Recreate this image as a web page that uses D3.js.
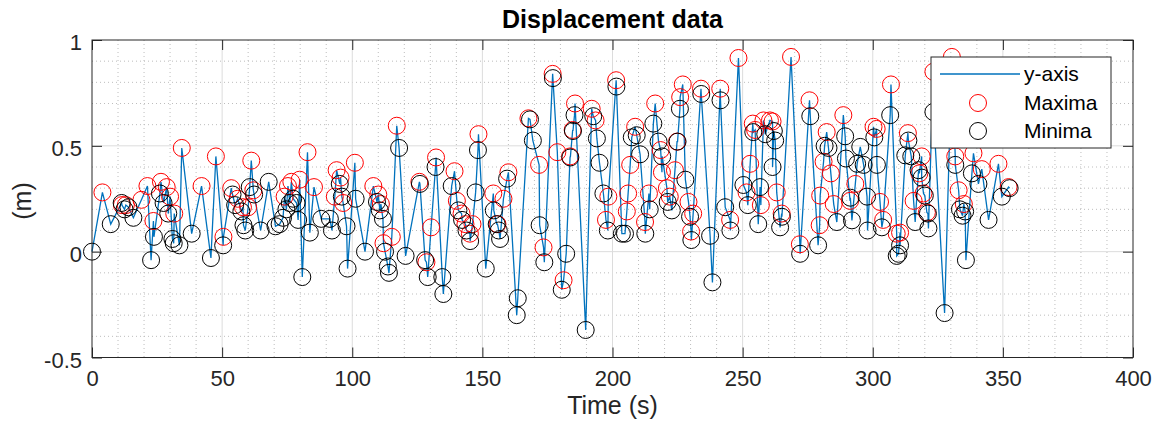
<!DOCTYPE html>
<html>
<head>
<meta charset="utf-8">
<title>Displacement data</title>
<script src="https://d3js.org/d3.v7.min.js"></script>
<style>
  body { margin: 0; background: #fff; }
  text { font-family: "Liberation Sans", Arial, sans-serif; fill: #262626; }
  .axis path.domain { display: none; }
  .axis line { stroke: #262626; }
  .grid-major line { stroke: #dcdcdc; stroke-width: 1; }
  .grid-minor line { stroke: #bdbdbd; stroke-width: 1; stroke-dasharray: 1 3; }
</style>
</head>
<body>
<div id="chart"></div>
<script>
"use strict"

// maxima (time in s, displacement in m)
var maxT = [4, 11.5, 13, 19, 21.3, 23.6, 26.5, 28.7, 30, 31.6, 34.5, 42.1, 47.6, 50.5, 53.5, 56, 58, 60, 61.2, 62,
  74, 75.3, 76.6, 79.8, 82.8, 85.3, 93.3, 94, 95.5, 96.5, 101, 108.1, 110, 111, 112, 115.2, 117.1, 125.8, 128.5, 130.3,
  132.2, 139.3, 140.2, 142, 143.5, 145.2, 146.2, 148.5, 154.2, 155.8, 158.1, 160, 167.7, 171.8, 173.5, 177, 178.8, 181.2, 183.7, 184.7,
  185.6, 192, 193.5, 197.5, 198.4, 201.4, 205.5, 206, 206.8, 208.7, 212.5, 214, 216.4, 218.5, 219, 220.9, 222, 224, 224.8, 226,
  227, 229.2, 230.2, 231, 234, 241.4, 245.2, 248.4, 251.5, 252.9, 253.9, 254.8, 257, 258, 260.5, 261.5, 263.1, 265, 268.6, 272,
  275.7, 279.6, 279.8, 281.1, 282.3, 283.9, 285, 288.7, 291.3, 293.3, 300.3, 301.5, 302.8, 304, 307, 309.2, 310.5, 313.5, 315.7, 317.9,
  318.8, 319.5, 320.8, 323.3, 330.4, 331.7, 333, 335, 338.7, 341.9, 348.3, 352.2];
var maxV = [0.28, 0.22, 0.22, 0.245, 0.31, 0.145, 0.33, 0.305, 0.26, 0.18, 0.49, 0.31, 0.45, 0.07, 0.30, 0.25, 0.21, 0.21, 0.43, 0.29,
  0.26, 0.31, 0.33, 0.34, 0.47, 0.305, 0.26, 0.385, 0.35, 0.23, 0.42, 0.31, 0.27, 0.225, 0.04, 0.07, 0.595, 0.33, -0.05, 0.115,
  0.445, 0.38, 0.24, 0.18, 0.13, 0.085, 0.13, 0.555, 0.275, 0.13, 0.25, 0.375, 0.63, 0.41, 0.02, 0.84, 0.47, -0.135, 0.45, 0.575,
  0.70, 0.675, 0.62, 0.15, 0.26, 0.81, 0.19, 0.275, 0.41, 0.59, 0.14, 0.275, 0.70, 0.48, 0.375, 0.30, 0.26, 0.385, 0.52, 0.73,
  0.79, 0.235, 0.095, 0.18, 0.77, 0.77, 0.15, 0.915, 0.28, 0.415, 0.605, 0.575, 0.22, 0.62, 0.62, 0.615, 0.28, 0.18, 0.92, 0.035,
  0.715, 0.125, 0.265, 0.425, 0.565, 0.37, 0.225, 0.645, 0.24, 0.32, 0.59, 0.58, 0.235, 0.15, 0.79, 0.085, 0.09, 0.56, 0.24, 0.37,
  0.45, 0.275, 0.185, 0.85, 0.92, 0.45, 0.29, 0.225, 0.465, 0.39, 0.415, 0.305];

// minima
var minT = [0, 7.2, 11.4, 12.5, 14, 15.9, 22.7, 23.8, 26.1, 27.5, 29.3, 30.9, 31.4, 33.6, 38.3, 45.7, 50.4, 54, 55, 57.4,
  58.2, 58.9, 60.6, 62.3, 64.8, 67.9, 70.5, 72.1, 73.4, 74.7, 76, 77.3, 78.6, 79.2, 80.8, 83.7, 88.1, 91.4, 92.2, 95.2,
  96, 97.8, 98.2, 101.3, 104.9, 109.5, 110.6, 111.8, 112.6, 113.7, 114.1, 118, 120.5, 126, 128, 129, 132, 134.6, 135, 138.2,
  140.8, 142.2, 143.9, 145.3, 147.4, 148.3, 151.3, 154.4, 155.5, 156.3, 156.8, 159.5, 163.2, 163.6, 168.3, 169.4, 172, 173.8, 177.1, 180.5,
  182.2, 183.8, 184.8, 185.4, 189.7, 192.6, 194, 195, 196.5, 198.2, 201.5, 203.6, 204.8, 207.4, 209.3, 210.6, 212.6, 214.3, 215.7, 217.7,
  219.1, 221.2, 222.8, 225, 225.9, 228, 229.8, 230.3, 234.1, 237.5, 238.4, 241.5, 243.3, 245.3, 250.3, 252, 254.1, 256, 256.7, 258.7,
  261.5, 262, 262.5, 264.4, 265.1, 272.1, 276, 279, 281.5, 283, 286.2, 289.4, 289.7, 291.4, 292, 294, 295.2, 296.5, 297.8, 298,
  300.6, 301.6, 303.5, 306.7, 309.2, 309.9, 310.5, 312.5, 313.7, 314.8, 316.3, 317.6, 318.8, 320, 321.2, 321.4, 323.3, 327.6, 331.7, 333.5,
  334.5, 335.5, 335.8, 338.1, 340.6, 344.5, 349.6, 352.6];
var minV = [0, 0.13, 0.23, 0.2, 0.21, 0.16, -0.04, 0.07, 0.275, 0.23, 0.18, 0.06, 0.04, 0.03, 0.085, -0.03, 0.03, 0.27, 0.22, 0.19,
  0.125, 0.10, 0.305, 0.27, 0.10, 0.33, 0.12, 0.13, 0.16, 0.20, 0.23, 0.25, 0.23, 0.15, -0.12, 0.09, 0.155, 0.155, 0.10, 0.32,
  0.26, 0.12, -0.08, 0.25, 0, 0.235, 0.195, 0.155, 0, -0.07, -0.1, 0.49, -0.02, 0.32, -0.04, -0.12, 0.40, -0.12, -0.2, 0.31,
  0.195, 0.15, 0.10, 0.05, 0.28, 0.48, -0.08, 0.195, 0.13, 0.10, 0.06, 0.345, -0.30, -0.22, 0.625, 0.525, 0.125, -0.05, 0.82, -0.18,
  -0.01, 0.445, 0.57, 0.645, -0.37, 0.64, 0.535, 0.42, 0.275, 0.10, 0.78, 0.085, 0.085, 0.54, 0.55, 0.46, 0.085, 0.2, 0.605, 0.52,
  0.45, 0.235, 0.195, 0.52, 0.675, 0.34, 0.165, 0.055, 0.745, 0.075, -0.145, 0.715, 0.21, 0.10, 0.315, 0.22, 0.565, 0.13, 0.305, 0.555,
  0.40, 0.57, 0.525, 0.115, 0.165, -0.01, 0.64, 0.03, 0.50, 0.49, 0.14, 0.545, 0.44, 0.255, 0.148, 0.415, 0.495, 0.41, 0.26, 0.10,
  0.54, 0.41, 0.115, 0.645, -0.02, -0.01, 0.03, 0.455, 0.525, 0.45, 0.14, 0.385, 0.35, 0.265, 0.18, 0.11, 0.66, -0.29, 0.41, 0.20,
  0.17, 0.19, -0.04, 0.37, 0.32, 0.15, 0.26, 0.30];

var xTicks = [0, 50, 100, 150, 200, 250, 300, 350, 400];
var yTicks = [-0.5, 0, 0.5, 1];
var legendLabels = ["y-axis", "Maxima", "Minima"];

var larguraSVG = 1159, alturaSVG = 436;
var margin = {top: 40, right: 26, bottom: 78.5, left: 92},
    larguraVis = larguraSVG - margin.left - margin.right,
    alturaVis = alturaSVG - margin.top - margin.bottom;

var maxima = maxT.map(function(t, i) { return {t: t, v: maxV[i]}; });
var minima = minT.map(function(t, i) { return {t: t, v: minV[i]}; });
var sinal = maxima.concat(minima).sort(function(a, b) { return a.t - b.t; });

var svg = d3.select('#chart')
  .append('svg')
    .attr('width', larguraSVG)
    .attr('height', alturaSVG);

var grafico = svg.append('g')
    .attr('transform', 'translate(' + margin.left + ',' + margin.top + ')');

var x = d3.scaleLinear().domain([0, 400]).range([0, larguraVis]);
var y = d3.scaleLinear().domain([-0.5, 1]).range([alturaVis, 0]);

// minor grid (dotted)
grafico.append('g').attr('class', 'grid-minor')
  .selectAll('line').data(d3.range(10, 400, 10).filter(function(d) { return d % 50 !== 0; }))
  .enter().append('line')
    .attr('x1', function(d) { return x(d); }).attr('x2', function(d) { return x(d); })
    .attr('y1', 0).attr('y2', alturaVis);
grafico.append('g').attr('class', 'grid-minor')
  .selectAll('line').data(d3.range(-4, 10).map(function(d) { return d / 10; }).filter(function(d) { return Math.abs(d * 2 - Math.round(d * 2)) > 1e-6; }))
  .enter().append('line')
    .attr('y1', function(d) { return y(d); }).attr('y2', function(d) { return y(d); })
    .attr('x1', 0).attr('x2', larguraVis);

// major grid
grafico.append('g').attr('class', 'grid-major')
  .selectAll('line').data(xTicks.slice(1, -1))
  .enter().append('line')
    .attr('x1', function(d) { return x(d); }).attr('x2', function(d) { return x(d); })
    .attr('y1', 0).attr('y2', alturaVis);
grafico.append('g').attr('class', 'grid-major')
  .selectAll('line').data(yTicks.slice(1, -1))
  .enter().append('line')
    .attr('y1', function(d) { return y(d); }).attr('y2', function(d) { return y(d); })
    .attr('x1', 0).attr('x2', larguraVis);

// signal line
grafico.append('path')
  .datum(sinal)
  .attr('fill', 'none')
  .attr('stroke', '#0072bd')
  .attr('stroke-width', 1.3)
  .attr('d', d3.line().x(function(d) { return x(d.t); }).y(function(d) { return y(d.v); }));

grafico.selectAll('.maxDot')
    .data(maxima)
  .enter().append('circle')
    .attr('class', 'maxDot')
    .attr('r', 8.5)
    .attr('fill', 'none')
    .attr('stroke', '#ff0000')
    .attr('cx', function(d) { return x(d.t); })
    .attr('cy', function(d) { return y(d.v); });

grafico.selectAll('.minDot')
    .data(minima)
  .enter().append('circle')
    .attr('class', 'minDot')
    .attr('r', 8.5)
    .attr('fill', 'none')
    .attr('stroke', '#000000')
    .attr('cx', function(d) { return x(d.t); })
    .attr('cy', function(d) { return y(d.v); });

// axes, ticks pointing inward
grafico.append('g')
    .attr('class', 'axis')
    .attr('transform', 'translate(0,' + alturaVis + ')')
    .call(d3.axisBottom(x).tickValues(xTicks).tickFormat(function(d) { return String(d); }).tickSize(-10).tickPadding(13))
    .selectAll('text').style('font-size', '22px').attr('fill', '#262626');

grafico.append('g')
    .attr('class', 'axis')
    .call(d3.axisTop(x).tickValues(xTicks).tickFormat('').tickSize(-10));

grafico.append('g')
    .attr('class', 'axis')
    .call(d3.axisLeft(y).tickValues(yTicks).tickFormat(function(d) { return String(d); }).tickSize(-10).tickPadding(10))
    .selectAll('text').style('font-size', '22px').attr('fill', '#262626').attr('dy', '0.45em');

grafico.append('g')
    .attr('class', 'axis')
    .attr('transform', 'translate(' + larguraVis + ',0)')
    .call(d3.axisRight(y).tickValues(yTicks).tickFormat('').tickSize(-10));

grafico.append('rect')
    .attr('width', larguraVis)
    .attr('height', alturaVis)
    .attr('fill', 'none')
    .attr('stroke', '#262626')
    .attr('stroke-width', 1);

// title and labels
svg.append('text')
    .attr('x', margin.left + larguraVis / 2)
    .attr('y', 28)
    .attr('text-anchor', 'middle')
    .style('font-size', '25px')
    .style('font-weight', 'bold')
    .style('fill', '#000')
    .text('Displacement data');

svg.append('text')
    .attr('x', margin.left + larguraVis / 2)
    .attr('y', 414)
    .attr('text-anchor', 'middle')
    .style('font-size', '25px')
    .text('Time (s)');

svg.append('text')
    .attr('transform', 'translate(31,201) rotate(-90)')
    .attr('text-anchor', 'middle')
    .style('font-size', '25px')
    .text('(m)');

// legend
var legenda = svg.append('g').attr('transform', 'translate(931,57)');
legenda.append('rect')
    .attr('width', 180)
    .attr('height', 91)
    .attr('fill', '#fff')
    .attr('stroke', '#262626');
legenda.append('line')
    .attr('x1', 9).attr('x2', 89).attr('y1', 17).attr('y2', 17)
    .attr('stroke', '#0072bd').attr('stroke-width', 1.3);
legenda.append('circle').attr('cx', 47).attr('cy', 46).attr('r', 8.5)
    .attr('fill', 'none').attr('stroke', '#ff0000');
legenda.append('circle').attr('cx', 47).attr('cy', 74).attr('r', 8.5)
    .attr('fill', 'none').attr('stroke', '#000');
legenda.selectAll('.legTxt')
    .data(legendLabels)
  .enter().append('text')
    .attr('class', 'legTxt')
    .attr('x', 93)
    .attr('y', function(d, i) { return 17 + i * 28.5; })
    .attr('dy', '0.35em')
    .style('font-size', '21px')
    .style('fill', '#000')
    .text(function(d) { return d; });
</script>
</body>
</html>
